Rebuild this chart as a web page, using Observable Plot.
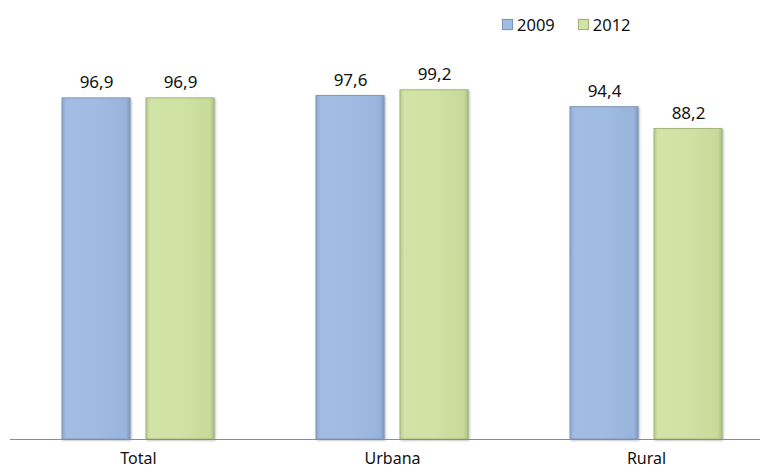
<!DOCTYPE html>
<html>
<head>
<meta charset="utf-8">
<script src="https://cdn.jsdelivr.net/npm/d3@7"></script>
<script src="https://cdn.jsdelivr.net/npm/@observablehq/plot@0.6"></script>
<style>
  html, body { margin: 0; padding: 0; background: #fff; }
  #wrap { position: relative; width: 760px; height: 472px; font-family: "Noto Sans", sans-serif; }
  #legend { position: absolute; top: 13px; left: 502px; display: flex; gap: 23px; font-size: 16.5px; color: #111; z-index: 2; }
  #legend span.item { display: flex; align-items: center; }
  #legend span.sw { display: inline-block; width: 9px; height: 9px; margin-right: 4px; box-shadow: 0 0 1px rgba(0,0,0,0.25); }
</style>
</head>
<body>
<div id="wrap"><div id="legend"></div></div>
<script>
const categories = ["Total", "Urbana", "Rural"];
const years = ["2009", "2012"];
const values2009 = [96.9, 97.6, 94.4];
const values2012 = [96.9, 99.2, 88.2];
const colors = { "2009": "#9fbce3", "2012": "#d0e2a4" };
const strokes = { "2009": "#8096b8", "2012": "#a4b57c" };

const rows = [];
categories.forEach((c, i) => {
  rows.push({ cat: c, year: "2009", value: values2009[i] });
  rows.push({ cat: c, year: "2012", value: values2012[i] });
});
const fmt = v => v.toFixed(1).replace(".", ",");
const rows09 = rows.filter(d => d.year === "2009");
const rows12 = rows.filter(d => d.year === "2012");

const barOpts = (year) => ({
  x: "cat", y: "value",
  fill: `url(#grad${year})`,
  stroke: strokes[year], strokeWidth: 1,
  insetLeft: year === "2009" ? 51 : 135,
  insetRight: year === "2009" ? 135 : 51
});
const labelOpts = (year) => ({
  x: "cat", y: "value", text: d => fmt(d.value),
  dx: year === "2009" ? -42 : 42, dy: -10,
  lineAnchor: "bottom", fontSize: 17, fill: "#111"
});

const chart = Plot.plot({
  width: 760, height: 472,
  marginLeft: 10, marginRight: 0, marginTop: 0, marginBottom: 33,
  style: { fontFamily: "Noto Sans, sans-serif", background: "#fff" },
  x: { domain: categories, range: [11, 773], padding: 0, label: null },
  y: { domain: [0, 100], range: [439, 87], axis: null },
  marks: [
    Plot.barY(rows09, barOpts("2009")),
    Plot.barY(rows12, barOpts("2012")),
    Plot.text(rows09, labelOpts("2009")),
    Plot.text(rows12, labelOpts("2012")),
    Plot.ruleY([0], { stroke: "#8c8c8c", strokeWidth: 1 }),
    Plot.axisX({ tickSize: 0, tickPadding: 13, fontSize: 16, label: null, fill: "#111" })
  ]
});

// gradients for a soft bevelled look
const svg = d3.select(chart);
const defs = svg.insert("defs", ":first-child");
const gradStops = {
  "2009": [["0%", "#8aa6cf"], ["6%", "#a2bde3"], ["50%", "#a0bce2"], ["94%", "#98b4dc"], ["100%", "#7f9bc4"]],
  "2012": [["0%", "#b7cb8c"], ["6%", "#d2e3a7"], ["50%", "#d0e2a4"], ["94%", "#c7da9a"], ["100%", "#acc07f"]]
};
for (const y of years) {
  const g = defs.append("linearGradient").attr("id", "grad" + y).attr("x1", "0").attr("x2", "1").attr("y1", "0").attr("y2", "0");
  for (const [o, c] of gradStops[y]) g.append("stop").attr("offset", o).attr("stop-color", c);
}
svg.selectAll('g[aria-label="bar"]').style("filter", "drop-shadow(1.5px 1px 1.2px rgba(0,0,0,0.28))");

document.getElementById("wrap").prepend(chart);
chart.style.position = "absolute"; chart.style.left = "0"; chart.style.top = "0";

const legend = document.getElementById("legend");
for (const y of years) {
  const item = document.createElement("span");
  item.className = "item";
  const sw = document.createElement("span");
  sw.className = "sw";
  sw.style.background = colors[y];
  sw.style.border = "1px solid " + strokes[y];
  item.appendChild(sw);
  item.appendChild(document.createTextNode(y));
  legend.appendChild(item);
}
</script>
</body>
</html>
